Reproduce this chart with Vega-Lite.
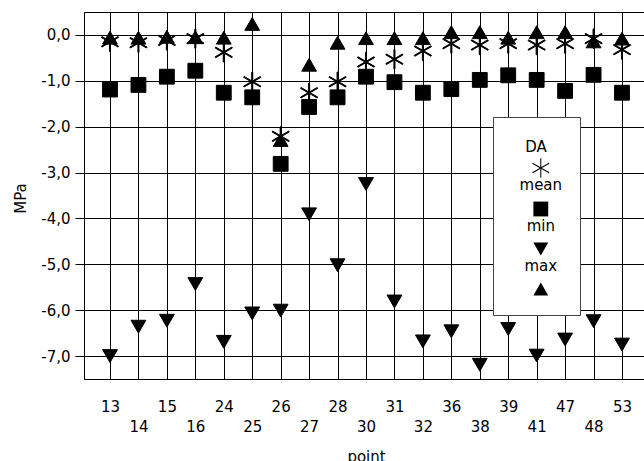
{
  "$schema": "https://vega.github.io/schema/vega-lite/v6.json",
  "autosize": {"type": "none"},
  "padding": {"left": 84, "top": 12, "right": 0, "bottom": 82},
  "width": 564,
  "height": 367,
  "background": "white",
  "config": {
    "font": "DejaVu Sans",
    "view": {"stroke": "black", "strokeWidth": 1},
    "axis": {"gridColor": "black", "gridOpacity": 1, "gridWidth": 1, "domainColor": "black", "tickColor": "black", "labelColor": "black", "titleColor": "black", "labelFont": "DejaVu Sans", "titleFont": "DejaVu Sans", "labelFontSize": 15, "titleFontSize": 15, "titleFontWeight": "normal"},
    "legend": {"symbolStrokeColor": "black", "symbolFillColor": "black", "symbolStrokeWidth": 1}
  },
  "data": {"values": [
    {"point": "13", "series": "DA", "value": -0.15}, {"point": "13", "series": "mean", "value": -1.19}, {"point": "13", "series": "min", "value": -7.0}, {"point": "13", "series": "max", "value": -0.06},
    {"point": "14", "series": "DA", "value": -0.17}, {"point": "14", "series": "mean", "value": -1.09}, {"point": "14", "series": "min", "value": -6.36}, {"point": "14", "series": "max", "value": -0.06},
    {"point": "15", "series": "DA", "value": -0.12}, {"point": "15", "series": "mean", "value": -0.91}, {"point": "15", "series": "min", "value": -6.23}, {"point": "15", "series": "max", "value": -0.04},
    {"point": "16", "series": "DA", "value": -0.08}, {"point": "16", "series": "mean", "value": -0.78}, {"point": "16", "series": "min", "value": -5.43}, {"point": "16", "series": "max", "value": -0.05},
    {"point": "24", "series": "DA", "value": -0.38}, {"point": "24", "series": "mean", "value": -1.26}, {"point": "24", "series": "min", "value": -6.69}, {"point": "24", "series": "max", "value": -0.06},
    {"point": "25", "series": "DA", "value": -1.02}, {"point": "25", "series": "mean", "value": -1.36}, {"point": "25", "series": "min", "value": -6.07}, {"point": "25", "series": "max", "value": 0.24},
    {"point": "26", "series": "DA", "value": -2.21}, {"point": "26", "series": "mean", "value": -2.81}, {"point": "26", "series": "min", "value": -6.01}, {"point": "26", "series": "max", "value": -2.29},
    {"point": "27", "series": "DA", "value": -1.26}, {"point": "27", "series": "mean", "value": -1.57}, {"point": "27", "series": "min", "value": -3.91}, {"point": "27", "series": "max", "value": -0.65},
    {"point": "28", "series": "DA", "value": -1.02}, {"point": "28", "series": "mean", "value": -1.36}, {"point": "28", "series": "min", "value": -5.02}, {"point": "28", "series": "max", "value": -0.17},
    {"point": "30", "series": "DA", "value": -0.59}, {"point": "30", "series": "mean", "value": -0.91}, {"point": "30", "series": "min", "value": -3.25}, {"point": "30", "series": "max", "value": -0.07},
    {"point": "31", "series": "DA", "value": -0.53}, {"point": "31", "series": "mean", "value": -1.03}, {"point": "31", "series": "min", "value": -5.81}, {"point": "31", "series": "max", "value": -0.07},
    {"point": "32", "series": "DA", "value": -0.35}, {"point": "32", "series": "mean", "value": -1.26}, {"point": "32", "series": "min", "value": -6.68}, {"point": "32", "series": "max", "value": -0.07},
    {"point": "36", "series": "DA", "value": -0.19}, {"point": "36", "series": "mean", "value": -1.18}, {"point": "36", "series": "min", "value": -6.46}, {"point": "36", "series": "max", "value": 0.06},
    {"point": "38", "series": "DA", "value": -0.22}, {"point": "38", "series": "mean", "value": -0.98}, {"point": "38", "series": "min", "value": -7.19}, {"point": "38", "series": "max", "value": 0.06},
    {"point": "39", "series": "DA", "value": -0.19}, {"point": "39", "series": "mean", "value": -0.88}, {"point": "39", "series": "min", "value": -6.41}, {"point": "39", "series": "max", "value": -0.06},
    {"point": "41", "series": "DA", "value": -0.22}, {"point": "41", "series": "mean", "value": -0.98}, {"point": "41", "series": "min", "value": -6.99}, {"point": "41", "series": "max", "value": 0.06},
    {"point": "47", "series": "DA", "value": -0.19}, {"point": "47", "series": "mean", "value": -1.22}, {"point": "47", "series": "min", "value": -6.64}, {"point": "47", "series": "max", "value": 0.06},
    {"point": "48", "series": "DA", "value": -0.08}, {"point": "48", "series": "mean", "value": -0.87}, {"point": "48", "series": "min", "value": -6.24}, {"point": "48", "series": "max", "value": -0.14},
    {"point": "53", "series": "DA", "value": -0.32}, {"point": "53", "series": "mean", "value": -1.26}, {"point": "53", "series": "min", "value": -6.75}, {"point": "53", "series": "max", "value": -0.08}
  ]},
  "mark": {"type": "point", "filled": true, "fill": "black", "stroke": "black", "strokeWidth": 1, "size": 220, "opacity": 1},
  "encoding": {
    "x": {
      "field": "point", "type": "ordinal",
      "sort": ["13","14","15","16","24","25","26","27","28","30","31","32","36","38","39","41","47","48","53"],
      "scale": {"type": "point", "padding": 0.914},
      "axis": {
        "grid": true, "ticks": false, "labelAngle": 0, "labelOverlap": false, "labelFlush": false,
        "labelPadding": 20, "labelLineHeight": 20,
        "labelExpr": "indexof(['13','14','15','16','24','25','26','27','28','30','31','32','36','38','39','41','47','48','53'], datum.label) % 2 == 1 ? ['', datum.label] : datum.label",
        "title": "point", "titleX": 282, "titleY": 77, "titleBaseline": "middle", "titleAlign": "center"
      }
    },
    "y": {
      "field": "value", "type": "quantitative",
      "scale": {"domain": [-7.5, 0.5], "nice": false, "zero": false},
      "axis": {
        "grid": true, "values": [-7, -6, -5, -4, -3, -2, -1, 0], "tickSize": 9, "labelPadding": 5,
        "labelExpr": "(datum.value < 0 ? '-' : '') + replace(format(abs(datum.value), '.1f'), '.', ',')",
        "title": "MPa", "titleAngle": 270, "titleX": -64, "titleY": 186, "titleBaseline": "middle", "titleAlign": "center"
      }
    },
    "shape": {
      "field": "series", "type": "nominal",
      "scale": {"domain": ["DA", "mean", "min", "max"], "range": ["M-0.07,-1.3L0.07,-1.3L0.07,1.3L-0.07,1.3ZM-1.161,-0.589L-1.091,-0.711L1.161,0.589L1.091,0.711ZM-1.091,0.711L-1.161,0.589L1.091,-0.711L1.161,-0.589Z", "square", "triangle-down", "triangle-up"]},
      "legend": {
        "title": ["", "DA"], "titleLineHeight": 6, "titleAnchor": "middle", "titleAlign": "center", "titleFontSize": 15, "titleFontWeight": "normal", "titleFont": "DejaVu Sans", "titleColor": "black", "titlePadding": 5,
        "orient": "none", "legendX": 409, "legendY": 105,
        "fillColor": "white", "strokeColor": "#444", "padding": 17,
        "labelAlign": "center", "labelOffset": -8, "symbolOffset": 22.8, "labelFontSize": 15, "labelFont": "DejaVu Sans", "labelColor": "black",
        "labelExpr": "datum.label == 'DA' ? ['', '\u00a0\u00a0mean\u00a0\u00a0'] : datum.label == 'mean' ? ['', 'min'] : datum.label == 'min' ? ['', 'max'] : ''",
        "symbolSize": 220, "symbolFillColor": "black", "symbolStrokeColor": "black", "symbolStrokeWidth": 1, "symbolOpacity": 1,
        "rowPadding": 6
      }
    }
  }
}
